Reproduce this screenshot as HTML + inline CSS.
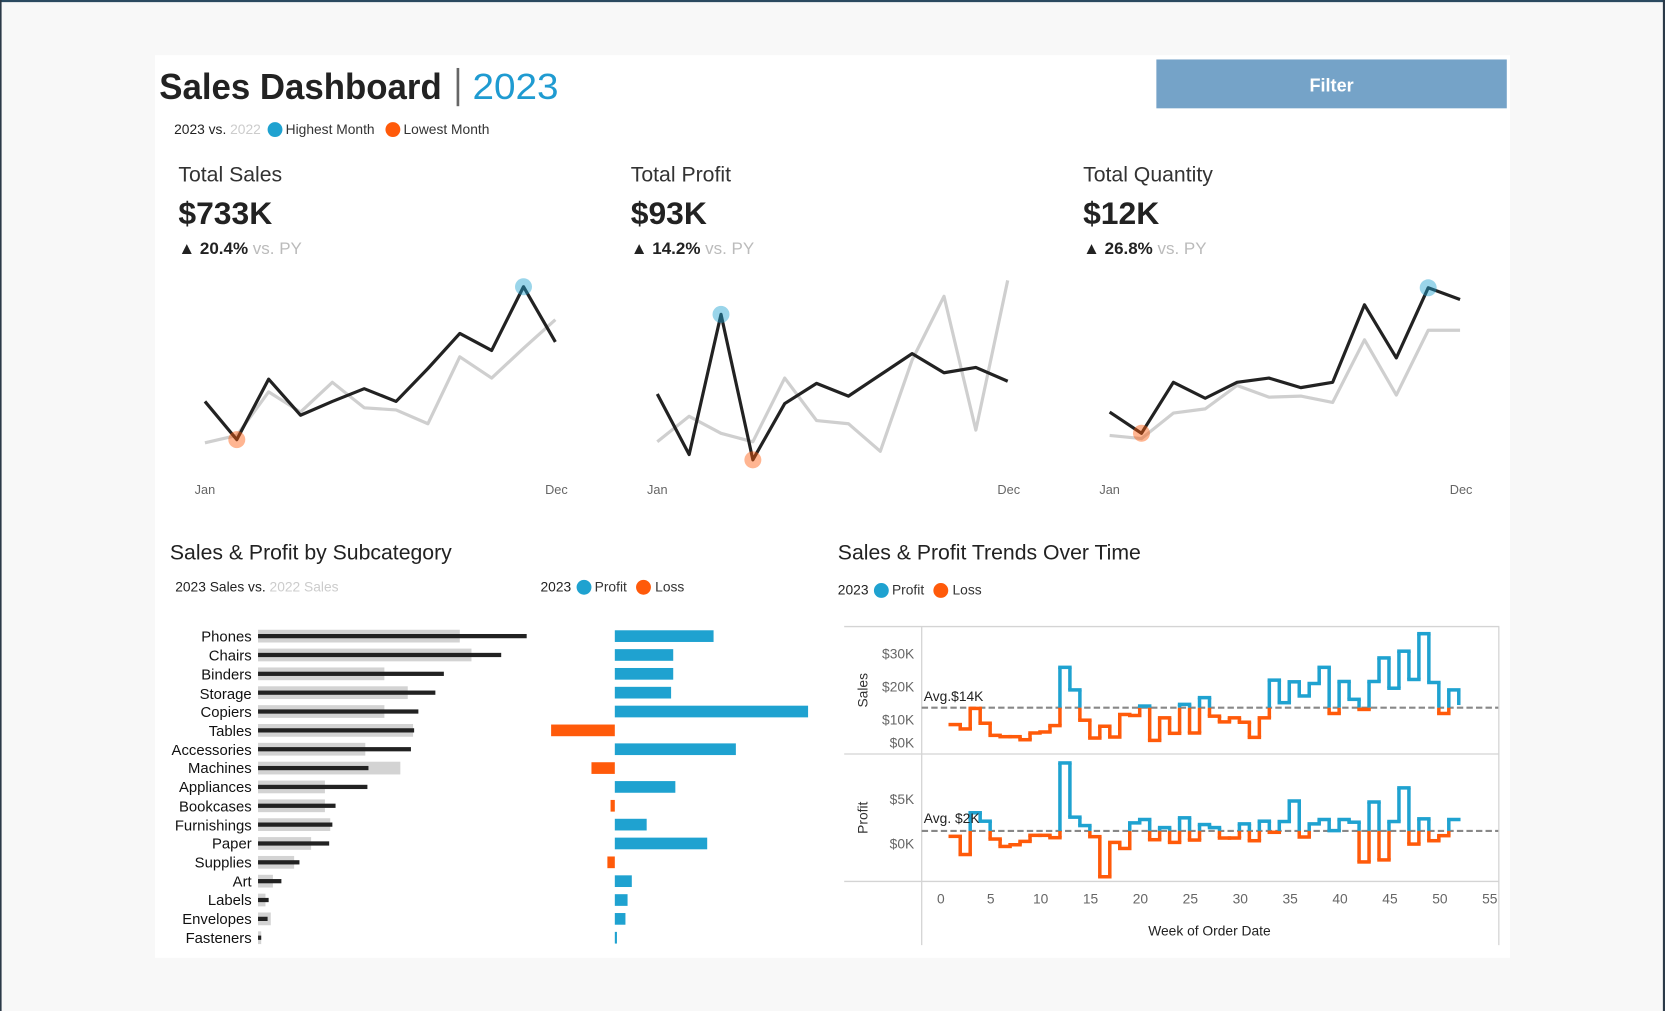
<!DOCTYPE html>
<html><head><meta charset="utf-8"><style>
html,body{margin:0;padding:0;background:#f8f8f8;}
svg{display:block;font-family:"Liberation Sans",sans-serif;}
</style></head><body>
<svg id="s" width="1665" height="1011" viewBox="0 0 1568 952" preserveAspectRatio="none" xmlns="http://www.w3.org/2000/svg">
<rect x="0" y="0" width="1568" height="952" fill="#f8f8f8"/>
<rect x="0" y="0" width="1568" height="2" fill="#2b4a60"/>
<rect x="0" y="0" width="1.5" height="952" fill="#2b3a48"/>
<rect x="1566" y="0" width="2" height="952" fill="#2b3a48"/>
<rect x="146" y="52" width="1276" height="850" fill="#ffffff"/>
<text x="150" y="93" font-size="34" font-weight="bold" fill="#222" textLength="266" lengthAdjust="spacingAndGlyphs">Sales Dashboard</text>
<rect x="430" y="64" width="2.5" height="36" fill="#666"/>
<text x="445" y="93" font-size="34" fill="#1f9bd1" textLength="81" lengthAdjust="spacingAndGlyphs">2023</text>
<rect x="1089" y="56" width="330" height="46" fill="#75a3c8"/>
<text x="1254" y="86" font-size="17" font-weight="bold" fill="#fff" text-anchor="middle">Filter</text>
<text x="164" y="126" font-size="13" fill="#222">2023 vs. <tspan fill="#ccc">2022</tspan></text>
<circle cx="259" cy="122" r="7" fill="#1fa2d0"/>
<text x="269" y="126" font-size="13" fill="#333">Highest Month</text>
<circle cx="370" cy="122" r="7" fill="#ff5a0a"/>
<text x="380" y="126" font-size="13" fill="#333">Lowest Month</text>
<g fill="#333">
<text x="168" y="171" font-size="20">Total Sales</text>
<text x="594" y="171" font-size="20">Total Profit</text>
<text x="1020" y="171" font-size="20">Total Quantity</text>
<g font-size="30" font-weight="bold" fill="#222">
<text x="168" y="211">$733K</text><text x="594" y="211">$93K</text><text x="1020" y="211">$12K</text></g>
<g font-size="16" font-weight="bold" fill="#222">
<text x="168" y="239">▲ 20.4% <tspan font-weight="normal" fill="#bbb">vs. PY</tspan></text>
<text x="594" y="239">▲ 14.2% <tspan font-weight="normal" fill="#bbb">vs. PY</tspan></text>
<text x="1020" y="239">▲ 26.8% <tspan font-weight="normal" fill="#bbb">vs. PY</tspan></text></g>
<g font-size="12" fill="#666" text-anchor="middle">
<text x="193" y="465">Jan</text><text x="524" y="465">Dec</text>
<text x="619" y="465">Jan</text><text x="950" y="465">Dec</text>
<text x="1045" y="465">Jan</text><text x="1376" y="465">Dec</text></g>
</g>
<g id="spark"></g>
<text x="160" y="527" font-size="20" fill="#222">Sales &amp; Profit by Subcategory</text>
<text x="165" y="557" font-size="13" fill="#222">2023 Sales vs. <tspan fill="#ccc">2022 Sales</tspan></text>
<text x="509" y="557" font-size="13" fill="#222">2023</text>
<circle cx="550" cy="553" r="7" fill="#1fa2d0"/>
<text x="560" y="557" font-size="13" fill="#333">Profit</text>
<circle cx="606" cy="553" r="7" fill="#ff5a0a"/>
<text x="617" y="557" font-size="13" fill="#333">Loss</text>
<g id="bars" font-size="14" fill="#111" text-anchor="end">
<text x="237" y="604">Phones</text><text x="237" y="622">Chairs</text><text x="237" y="640">Binders</text><text x="237" y="658">Storage</text><text x="237" y="675">Copiers</text><text x="237" y="693">Tables</text><text x="237" y="711">Accessories</text><text x="237" y="728">Machines</text><text x="237" y="746">Appliances</text><text x="237" y="764">Bookcases</text><text x="237" y="782">Furnishings</text><text x="237" y="799">Paper</text><text x="237" y="817">Supplies</text><text x="237" y="835">Art</text><text x="237" y="852">Labels</text><text x="237" y="870">Envelopes</text><text x="237" y="888">Fasteners</text>
</g>
<text x="789" y="527" font-size="20" fill="#222">Sales &amp; Profit Trends Over Time</text>
<text x="789" y="560" font-size="13" fill="#222">2023</text>
<circle cx="830" cy="556" r="7" fill="#1fa2d0"/>
<text x="840" y="560" font-size="13" fill="#333">Profit</text>
<circle cx="886" cy="556" r="7" fill="#ff5a0a"/>
<text x="897" y="560" font-size="13" fill="#333">Loss</text>
<g stroke="#d4d4d4" stroke-width="1.2">
<line x1="795" y1="590" x2="1412" y2="590"/><line x1="795" y1="710" x2="1412" y2="710"/><line x1="795" y1="830" x2="1412" y2="830"/>
<line x1="868" y1="590" x2="868" y2="890"/><line x1="1411.5" y1="590" x2="1411.5" y2="890"/>
</g>
<g font-size="13" fill="#666" text-anchor="end">
<text x="861" y="620">$30K</text><text x="861" y="651">$20K</text><text x="861" y="682">$10K</text><text x="861" y="704">$0K</text>
<text x="861" y="757">$5K</text><text x="861" y="799">$0K</text></g>
<text transform="translate(817,650) rotate(-90)" font-size="13" fill="#333" text-anchor="middle">Sales</text>
<text transform="translate(817,770) rotate(-90)" font-size="13" fill="#333" text-anchor="middle">Profit</text>
<g font-size="13" fill="#666" text-anchor="middle">
<text x="886" y="851">0</text><text x="933" y="851">5</text><text x="980" y="851">10</text><text x="1027" y="851">15</text><text x="1074" y="851">20</text><text x="1121" y="851">25</text><text x="1168" y="851">30</text><text x="1215" y="851">35</text><text x="1262" y="851">40</text><text x="1309" y="851">45</text><text x="1356" y="851">50</text><text x="1403" y="851">55</text></g>
<text x="1139" y="881" font-size="13" fill="#222" text-anchor="middle">Week of Order Date</text>
<g id="trend"></g>
<text x="870" y="660" font-size="13" fill="#222">Avg.$14K</text>
<text x="870" y="775" font-size="13" fill="#222">Avg. $2K</text>
</svg>
<script>
var NS="http://www.w3.org/2000/svg";
function el(p,t,a){var e=document.createElementNS(NS,t);for(var k in a)e.setAttribute(k,a[k]);p.appendChild(e);return e;}
var sp=document.getElementById('spark');
function spark(x0,gray,black,hi,lo){
 var pg=gray.map(function(v,i){return (x0+30*i)+','+v}).join(' ');
 var pb=black.map(function(v,i){return (x0+30*i)+','+v}).join(' ');
 el(sp,'polyline',{points:pg,fill:'none',stroke:'#cfcfcf','stroke-width':3,'stroke-linejoin':'round'});
 el(sp,'polyline',{points:pb,fill:'none',stroke:'#222','stroke-width':3,'stroke-linejoin':'round'});
 el(sp,'circle',{cx:x0+30*hi,cy:black[hi],r:8,fill:'#1fa2d0','fill-opacity':0.45});
 el(sp,'circle',{cx:x0+30*lo,cy:black[lo],r:8,fill:'#ff5a0a','fill-opacity':0.45});
}
spark(193,[417,410,369,388,360,384,386,399,336,356,328,301],[378,414,357,391,378,366,378,347,314,330,270,322],10,1);
spark(619,[416,392,408,416,356,396,399,425,339,279,405,264],[371,428,296,433,380,361,373,353,333,351,346,359],2,3);
spark(1045,[410,413,389,385,363,374,373,379,320,372,311,311],[388,408,360,375,360,356,365,360,287,337,271,282],10,1);
var b=document.getElementById('bars');
var g22=[433,444,362,384,362,389,344,377,306,306,311,293,277,257,250,255,246];
var g23=[496,472,418,410,394,390,387,347,346,316,313,310,282,265,253,252,246];
var pr=[672,634,634,632,761,519,693,557,636,575,609,666,572,595,591,589,581];
for(var i=0;i<17;i++){var y=599+17.75*i;
 el(b,'rect',{x:243,y:y-6,width:g22[i]-243,height:12,fill:'#d3d3d3'});
 el(b,'rect',{x:243,y:y-2,width:g23[i]-243,height:4,fill:'#222'});
 var p=pr[i];
 if(p>=579) el(b,'rect',{x:579,y:y-5.5,width:Math.max(p-579,1.5),height:11,fill:'#1fa2d0'});
 else el(b,'rect',{x:p,y:y-5.5,width:579-p,height:11,fill:'#ff5a0a'});
}
var tr=document.getElementById('trend');
function Y(o){return 565.0+o*0.317;}
function X(i){return 894.9+9.39*i;}
el(tr,'line',{x1:868,y1:Y(320),x2:1411,y2:Y(320),stroke:'#888','stroke-width':2,'stroke-dasharray':'6,3'});
el(tr,'line',{x1:868,y1:Y(686),x2:1411,y2:Y(686),stroke:'#888','stroke-width':2,'stroke-dasharray':'6,3'});
var B='#1fa2d0',O='#ff5a0a',W=3.3;
function step(vals,end,avg){
 var a=Y(avg);
 for(var i=0;i<vals.length;i++){
  var y=Y(vals[i]);
  el(tr,'line',{x1:X(i),y1:y,x2:X(i+1),y2:y,stroke:y<a?B:O,'stroke-width':W,'stroke-linecap':'square'});
  var nv=(i+1<vals.length)?vals[i+1]:end; if(nv==null)continue;
  var y2=Y(nv),top=Math.min(y,y2),bot=Math.max(y,y2),x=X(i+1);
  if(bot<=a) el(tr,'line',{x1:x,y1:top,x2:x,y2:bot,stroke:B,'stroke-width':W});
  else if(top>=a) el(tr,'line',{x1:x,y1:top,x2:x,y2:bot,stroke:O,'stroke-width':W});
  else{el(tr,'line',{x1:x,y1:top,x2:x,y2:a,stroke:B,'stroke-width':W});el(tr,'line',{x1:x,y1:a,x2:x,y2:bot,stroke:O,'stroke-width':W});}
 }
}
step([370,383,322,366,402,406,406,415,395,392,373,200,267,357,410,375,407,340,343,315,417,350,396,310,395,290,345,362,350,363,408,350,238,305,243,285,248,200,337,242,295,325,242,172,262,152,236,100,245,337,267],312,320);
step([702,756,632,657,710,732,727,717,699,699,706,484,645,670,703,822,720,738,662,652,712,676,720,647,713,667,676,707,707,665,715,657,690,658,597,704,665,652,685,652,660,778,600,772,658,558,725,650,715,700,652],null,686);
</script>
</body></html>
